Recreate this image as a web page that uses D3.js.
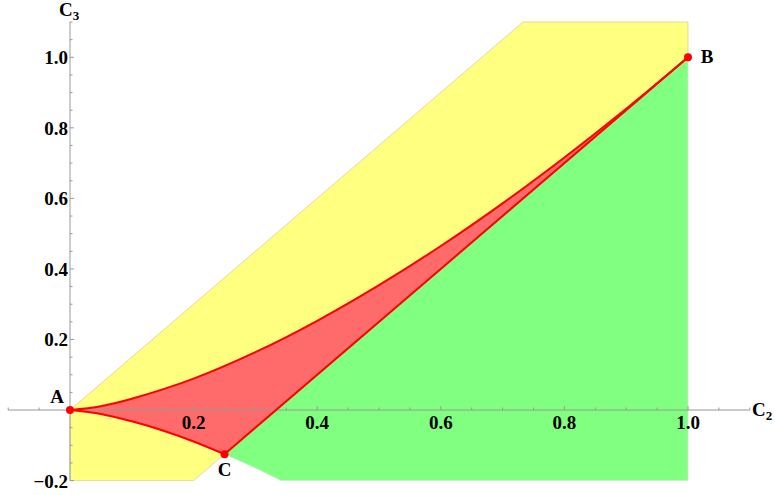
<!DOCTYPE html>
<html>
<head>
<meta charset="utf-8">
<script src="https://cdn.jsdelivr.net/npm/d3@7"></script>
<style>
  body { margin: 0; background: #fff; }
  text { font-family: "Liberation Serif", "Times New Roman", serif; font-weight: bold; }
</style>
</head>
<body>
<div id="chart"></div>
<script>
// Upper boundary A -> B
var upperX = [0, 0.05, 0.1, 0.2, 0.3, 0.4, 0.5, 0.6, 0.7, 0.8, 0.9, 1.0];
var upperY = [0, 0.011, 0.032, 0.089, 0.164, 0.253, 0.354, 0.465, 0.586, 0.716, 0.854, 1.0];

// Lower boundary A -> C, continuing under the green region
var lowerX = [0, 0.05, 0.1, 0.15, 0.2, 0.25, 0.3, 0.342];
var lowerY = [0, -0.011, -0.032, -0.058, -0.089, -0.125, -0.164, -0.2];

// Yellow band corners
var yellowX = [0, 0.733, 1.0, 1.0, 0.2, 0];
var yellowY = [0, 1.1, 1.1, 1.0, -0.2, -0.2];

// Green region corners (plus the lower boundary beyond C)
var greenX = [0.25, 1.0, 1.0, 0.342];
var greenY = [-0.125, 1.0, -0.2, -0.2];

// Labelled points
var pointNames = ["A", "B", "C"];
var pointX = [0, 1.0, 0.25];
var pointY = [0, 1.0, -0.125];

var xMajor = [0.2, 0.4, 0.6, 0.8, 1.0];
var yMajor = [-0.2, 0.2, 0.4, 0.6, 0.8, 1.0];

var svgWidth = 775;
var svgHeight = 495;

var svg = d3.select("#chart")
    .append("svg")
    .attr("width", svgWidth)
    .attr("height", svgHeight);

var xScale = d3.scaleLinear().domain([-0.1, 1.1]).range([8.2, 749.8]);
var yScale = d3.scaleLinear().domain([-0.2, 1.1]).range([480.6, 22]);

var pts = (xs, ys) => xs.map((x, i) => [x, ys[i]]);
var line = d3.line().x(d => xScale(d[0])).y(d => yScale(d[1]));
var smooth = d3.line().x(d => xScale(d[0])).y(d => yScale(d[1])).curve(d3.curveCatmullRom.alpha(0.5));

// yellow band
svg.append("path")
    .attr("d", line(pts(yellowX, yellowY)) + "Z")
    .attr("fill", "#ffff80")
    .attr("stroke", "#d6d29a")
    .attr("stroke-width", 0.8);

// green region: corners then lower curve back to C
var lowerPts = pts(lowerX, lowerY);
var greenTail = lowerPts.filter(d => d[0] >= 0.25).reverse();
svg.append("path")
    .attr("d", line(pts(greenX, greenY).slice(0, 3)) + smooth(greenTail).replace(/^M/, "L") + "Z")
    .attr("fill", "#80ff80")
    .attr("stroke", "#cfe3cf")
    .attr("stroke-width", 0.8);

// red region
var upperPts = pts(upperX, upperY);
var lowerHead = lowerPts.filter(d => d[0] <= 0.25);
svg.append("path")
    .attr("d", smooth(upperPts) + "L" + xScale(0.25) + "," + yScale(-0.125) +
        smooth(lowerHead.slice().reverse()).replace(/^M/, "L") + "Z")
    .attr("fill", "#ff6a6a")
    .attr("stroke", "none");

// axes
var axisColor = "#999";
svg.append("line")
    .attr("x1", xScale(-0.1)).attr("x2", xScale(1.1))
    .attr("y1", yScale(0)).attr("y2", yScale(0))
    .attr("stroke", axisColor);
svg.append("line")
    .attr("x1", xScale(0)).attr("x2", xScale(0))
    .attr("y1", yScale(-0.2)).attr("y2", yScale(1.1))
    .attr("stroke", axisColor);

var xTicks = d3.range(-2, 23).map(i => i * 0.05).filter(v => Math.abs(v) > 1e-9);
svg.selectAll("line.xtick")
    .data(xTicks)
    .enter().append("line")
    .attr("x1", d => xScale(d)).attr("x2", d => xScale(d))
    .attr("y1", yScale(0))
    .attr("y2", d => yScale(0) - (Math.abs(d * 5 - Math.round(d * 5)) < 1e-6 ? 4 : 2.5))
    .attr("stroke", axisColor);

var yTicks = d3.range(-4, 23).map(i => i * 0.05).filter(v => Math.abs(v) > 1e-9);
svg.selectAll("line.ytick")
    .data(yTicks)
    .enter().append("line")
    .attr("y1", d => yScale(d)).attr("y2", d => yScale(d))
    .attr("x1", xScale(0))
    .attr("x2", d => xScale(0) + (Math.abs(d * 5 - Math.round(d * 5)) < 1e-6 ? 4 : 2.5))
    .attr("stroke", axisColor);

// red boundary lines
svg.append("path")
    .attr("d", smooth(upperPts))
    .attr("fill", "none").attr("stroke", "#ff0000").attr("stroke-width", 2);
svg.append("path")
    .attr("d", smooth(lowerHead))
    .attr("fill", "none").attr("stroke", "#ff0000").attr("stroke-width", 2);
svg.append("path")
    .attr("d", line([[0.25, -0.125], [1.0, 1.0]]))
    .attr("fill", "none").attr("stroke", "#ff0000").attr("stroke-width", 2);

// tick labels
svg.selectAll("text.xl")
    .data(xMajor)
    .enter().append("text")
    .attr("x", d => xScale(d))
    .attr("y", yScale(0) + 19)
    .attr("text-anchor", "middle")
    .attr("font-size", "19px")
    .text(d => d.toFixed(1));

svg.selectAll("text.yl")
    .data(yMajor)
    .enter().append("text")
    .attr("x", xScale(0) - 2)
    .attr("y", d => yScale(d) + 7)
    .attr("text-anchor", "end")
    .attr("font-size", "19px")
    .text(d => d < 0 ? "\u2212" + (-d).toFixed(1) : d.toFixed(1));

// axis titles
var t3 = svg.append("text").attr("x", 59).attr("y", 16).attr("font-size", "19px");
t3.append("tspan").text("C");
t3.append("tspan").attr("dy", 4).attr("font-size", "13px").text("3");

var t2 = svg.append("text").attr("x", 752).attr("y", 416).attr("font-size", "19px");
t2.append("tspan").text("C");
t2.append("tspan").attr("dy", 4).attr("font-size", "13px").text("2");

// points
svg.selectAll("circle")
    .data(pointNames)
    .enter().append("circle")
    .attr("cx", (d, i) => xScale(pointX[i]))
    .attr("cy", (d, i) => yScale(pointY[i]))
    .attr("r", 4)
    .attr("fill", "#ff0000");

var labelDx = [-13, 19, 0];
var labelDy = [-7, 6, 22];
svg.selectAll("text.pl")
    .data(pointNames)
    .enter().append("text")
    .attr("x", (d, i) => xScale(pointX[i]) + labelDx[i])
    .attr("y", (d, i) => yScale(pointY[i]) + labelDy[i])
    .attr("text-anchor", "middle")
    .attr("font-size", "19px")
    .text(d => d);
</script>
</body>
</html>
